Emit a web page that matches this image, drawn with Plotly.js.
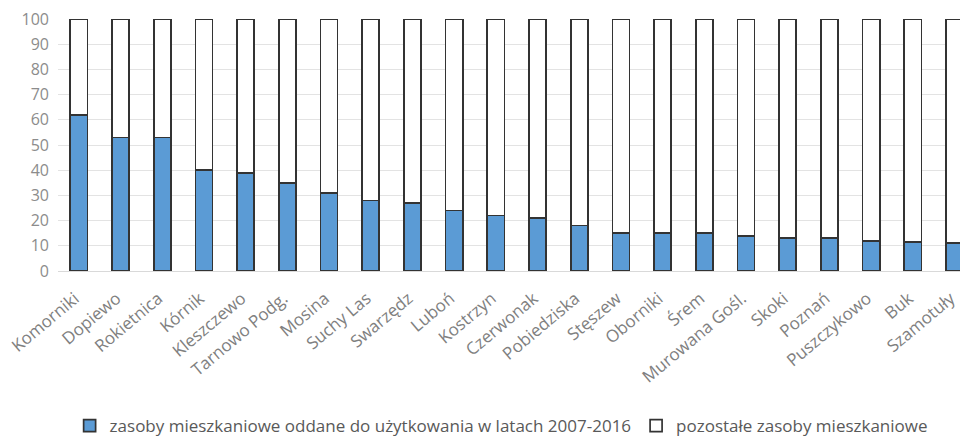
<!DOCTYPE html>
<html>
<head>
<meta charset="utf-8">
<script src="https://cdn.plot.ly/plotly-3.0.1.min.js"></script>
<style>
  html, body { margin: 0; padding: 0; background: #ffffff; }
  #chart { width: 960px; height: 437px; }
</style>
</head>
<body>
<div id="chart"></div>
<script>
// Gminy (municipalities) of the Poznań agglomeration
const gminy = [
  "Komorniki", "Dopiewo", "Rokietnica", "Kórnik", "Kleszczewo", "Tarnowo Podg.",
  "Mosina", "Suchy Las", "Swarzędz", "Luboń", "Kostrzyn", "Czerwonak",
  "Pobiedziska", "Stęszew", "Oborniki", "Śrem", "Murowana Gośl.", "Skoki",
  "Poznań", "Puszczykowo", "Buk", "Szamotuły"
];

// Share (%) of housing stock completed in 2007-2016
const noweZasoby = [
  62, 53, 53, 40, 39, 35,
  31, 28, 27, 24, 22, 21,
  18, 15, 15, 15, 14, 13,
  13, 12, 11.5, 11
];

// Remaining housing stock (%), to 100
const pozostaleZasoby = noweZasoby.map(v => 100 - v);

const yTicks = [0, 10, 20, 30, 40, 50, 60, 70, 80, 90, 100];

const font = "'Open Sans', 'DejaVu Sans', sans-serif";
const edge = { color: "#333333", width: 1.7 };

const traces = [
  {
    type: "bar",
    name: "zasoby mieszkaniowe oddane do użytkowania w latach 2007-2016",
    x: gminy,
    y: noweZasoby,
    marker: { color: "#5b9bd5", line: edge },
    hoverinfo: "x+y"
  },
  {
    type: "bar",
    name: "pozostałe zasoby mieszkaniowe",
    x: gminy,
    y: pozostaleZasoby,
    marker: { color: "#ffffff", line: edge },
    hoverinfo: "x+y"
  }
];

const layout = {
  width: 960,
  height: 437,
  barmode: "stack",
  bargap: 0.59,
  paper_bgcolor: "#ffffff",
  plot_bgcolor: "#ffffff",
  margin: { l: 58, r: 0, t: 19, b: 166 },
  font: { family: font, color: "#7f7f7f", size: 15 },
  xaxis: {
    type: "category",
    range: [-0.5, 21.13],
    tickangle: -40,
    tickfont: { family: font, size: 17, color: "#808080" },
    ticklabelstandoff: 10,
    ticklabelshift: -4,
    showgrid: false,
    showline: true,
    linecolor: "#d9d9d9",
    linewidth: 1,
    ticks: "",
    fixedrange: true
  },
  yaxis: {
    range: [0, 100],
    tickvals: yTicks,
    ticktext: yTicks.map(String),
    tickfont: { family: font, size: 16, color: "#8c8c8c" },
    showgrid: true,
    gridcolor: "#e3e3e3",
    gridwidth: 1,
    zeroline: false,
    showline: false,
    ticks: "",
    ticklabelstandoff: 8,
    fixedrange: true
  },
  legend: {
    orientation: "h",
    traceorder: "normal",
    xref: "container",
    x: 0.522,
    xanchor: "center",
    yref: "container",
    y: 0.025,
    yanchor: "middle",
    font: { family: font, size: 17, color: "#595959" },
    itemclick: false,
    itemdoubleclick: false
  },
  showlegend: true
};

Plotly.newPlot("chart", traces, layout, { displayModeBar: false, staticPlot: true });
</script>
</body>
</html>
